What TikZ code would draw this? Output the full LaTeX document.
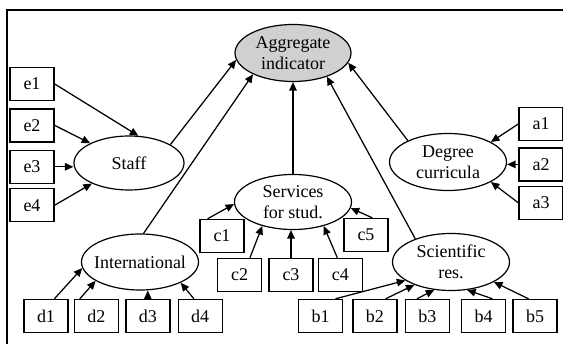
\documentclass[tikz,border=0pt]{standalone}
\usepackage{fontspec}
\setmainfont{Liberation Serif}
\usepackage{xcolor}
\usepackage{tikz}
\usetikzlibrary{arrows.meta,positioning,shapes.geometric}
\definecolor{cAgg}{HTML}{D0D0D0}
\tikzset{
  oval/.style={ellipse, draw, line width=1.2pt, inner sep=0pt, align=center,
               minimum width=117pt, minimum height=56pt, font=\fontsize{18}{20.5}\selectfont},
  ind/.style={rectangle, draw, line width=1.4pt, inner sep=0pt,
              minimum width=44pt, minimum height=33pt, font=\fontsize{18}{20.5}\selectfont},
  feed/.style={-{Triangle[length=8.5pt, width=7.5pt]}, line width=1.25pt},
  outerframe/.style={line width=1.4pt},
}

\begin{document}
\begin{tikzpicture}[x=1pt, y=-1pt]
  \useasboundingbox (0,0) rectangle (563,344);
  \draw[outerframe] (7,10) rectangle (590,370);

  \node[oval, fill=cAgg, minimum width=116pt, minimum height=57pt] (agg) at (293,53) {Aggregate\\indicator};
  \node[oval, minimum width=110pt, minimum height=54pt] (staff) at (129,163) {Staff};
  \node[oval, minimum height=57pt] (deg) at (448,162) {Degree\\curricula};
  \node[oval, minimum height=55pt] (serv) at (293,202) {Services\\for stud.};
  \node[oval, inner xsep=-6pt] (intl) at (140,262) {International};
  \node[oval, minimum height=57pt] (sci) at (451,262) {Scientific\\res.};

  \node[ind] (e1) at (32,84) {e1};
  \node[ind, below=7pt of e1] (e2) {e2};
  \node[ind, below=7pt of e2] (e3) {e3};
  \node[ind, below=4pt of e3] (e4) {e4};

  \node[ind] (a1) at (541,124) {a1};
  \node[ind, below=6pt of a1] (a2) {a2};
  \node[ind, below=4pt of a2] (a3) {a3};

  \node[ind] (c1) at (222,236) {c1};
  \node[ind] (c3) at (291,275) {c3};
  \node[ind, left=6pt of c3] (c2) {c2};
  \node[ind, right=4pt of c3] (c4) {c4};
  \node[ind] (c5) at (366,235) {c5};

  \node[ind] (d1) at (46,316) {d1};
  \node[ind, right=5pt of d1] (d2) {d2};
  \node[ind, right=6pt of d2] (d3) {d3};
  \node[ind, right=7pt of d3] (d4) {d4};

  \node[ind] (b1) at (320.5,316) {b1};
  \node[ind, right=9pt of b1] (b2) {b2};
  \node[ind, right=7pt of b2] (b3) {b3};
  \node[ind, right=11pt of b3] (b4) {b4};
  \node[ind, right=6pt of b4] (b5) {b5};

  \draw[feed] (staff.24) -- (agg.187);
  \draw[feed] (intl.83) -- (agg.208);
  \draw[feed] (serv.north) -- (agg.south);
  \draw[feed] (sci.147) -- (agg.325);
  \draw[feed] (deg.152) -- (agg.350);

  \draw[feed] (e1.east) -- (staff.71);
  \draw[feed] (e2.east) -- (staff.153);
  \draw[feed] (e3.east) -- (e3.east -| staff.west);
  \draw[feed] (e4.east) -- (staff.209);

  \draw[feed] (a1.west) -- (deg.25);
  \draw[feed] (a2.west) -- (a2.west -| deg.east);
  \draw[feed] (a3.west) -- (deg.335);

  \draw[feed] (c1.130) -- (serv.182);
  \draw[feed] (c2.59) -- (serv.218);
  \draw[feed] (c3.north) -- (c3.north |- serv.south);
  \draw[feed] (c4.100) -- (serv.322);
  \draw[feed] (c5.70) -- (serv.354);

  \draw[feed] (d1.64) -- (intl.186);
  \draw[feed] (d2.134) -- (intl.203);
  \draw[feed] (d3.north) -- (d3.north |- intl.south);
  \draw[feed] (d4.110) -- (intl.333);

  \draw[feed] (b1.49) -- (sci.202);
  \draw[feed] (b2.58) -- (sci.212);
  \draw[feed] (b3.121) -- (sci.239);
  \draw[feed] (b4.63) -- (sci.300);
  \draw[feed] (b5.111) -- (sci.335);
\end{tikzpicture}
\end{document}
